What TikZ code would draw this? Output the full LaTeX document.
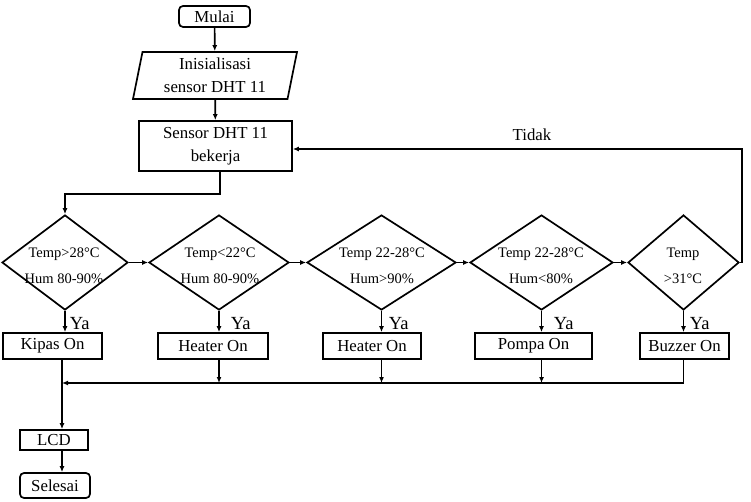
\documentclass[tikz,border=0pt]{standalone}
\usepackage{fontspec}
\setmainfont{Liberation Serif}
\usetikzlibrary{arrows.meta,shapes.geometric,calc}
\begin{document}
\begin{tikzpicture}[x=1pt,y=-1pt,
  line width=1.7pt,
  arr/.style={-{Latex[length=6pt,width=5pt]}},
  txt/.style={font=\fontsize{16.8}{22.5}\selectfont},
  term/.style={draw,rounded corners=4pt,inner sep=0pt,txt},
  box/.style={draw,inner sep=0pt,txt,align=center},
  io/.style={draw,trapezium,trapezium left angle=79,trapezium right angle=101,trapezium stretches=true,inner sep=0pt,txt,align=center},
  dia/.style={draw,diamond,inner sep=0pt},
  dtxt/.style={font=\fontsize{14.5}{26}\selectfont,align=center,inner sep=0pt},
  lbl/.style={txt,inner sep=0pt},
  yalbl/.style={font=\fontsize{18.5}{22}\selectfont,inner sep=0pt,anchor=west}]
\useasboundingbox (0,0) rectangle (751,502);
% top
\node[term,minimum width=71pt,minimum height=21pt] (mulai) at (214.5,16.5) {Mulai};
\node[io,minimum width=164pt,minimum height=47pt] (init) at (215,75.5) {Inisialisasi\\sensor DHT 11};
\node[box,minimum width=153pt,minimum height=50pt] (sensor) at (215.5,146) {Sensor DHT 11\\bekerja};
% decisions
\node[dia,minimum width=126pt,minimum height=95pt] (d1) at (65,262.5) {};
\node[dia,minimum width=140pt,minimum height=95pt] (d2) at (219,262.5) {};
\node[dia,minimum width=149pt,minimum height=95pt] (d3) at (381.5,262.5) {};
\node[dia,minimum width=143pt,minimum height=95pt] (d4) at (541.5,262.5) {};
\node[dia,minimum width=111pt,minimum height=95pt] (d5) at (683.5,262.5) {};
\node[dtxt] (t1) at (64,266) {Temp>28°C\\Hum 80-90\%};
\node[dtxt] (t2) at (220,266) {Temp<22°C\\Hum 80-90\%};
\node[dtxt] (t3) at (382,266) {Temp 22-28°C\\Hum>90\%};
\node[dtxt] (t4) at (541,266) {Temp 22-28°C\\Hum<80\%};
\node[dtxt] (t5) at (683,266) {Temp\\>31°C};
% actions
\node[box,minimum width=99pt,minimum height=26pt] (kipas) at (52.5,346) {Kipas On};
\node[box,minimum width=110pt,minimum height=26pt] (heater1) at (213,346) {Heater On};
\node[box,minimum width=98pt,minimum height=26pt] (heater2) at (372,346) {Heater On};
\node[box,minimum width=117pt,minimum height=26pt] (pompa) at (533.5,346) {Pompa On};
\node[box,minimum width=89pt,minimum height=26pt] (buzzer) at (684.5,346) {Buzzer On};
\node[box,minimum width=68pt,minimum height=20pt] (lcd) at (54,440) {LCD};
\node[term,minimum width=70pt,minimum height=25pt] (selesai) at (55,485.5) {Selesai};
% labels
\node[lbl] (tidak) at (532,135) {Tidak};
\node[yalbl] (ya1) at (69,324) {Ya};
\node[yalbl] (ya2) at (230,324) {Ya};
\node[yalbl] (ya3) at (388,324) {Ya};
\node[yalbl] (ya4) at (553,324) {Ya};
\node[yalbl] (ya5) at (689,324) {Ya};
\coordinate (kb) at (62,359);
\coordinate (bus) at (62,383);
% connectors
\draw[arr] (mulai) -- (init);
\draw[arr] (init) -- (sensor);
\draw[arr] ([xshift=4.5pt]sensor.south) -- ++(0,22) -| (d1.north);
\draw[arr] (d1.east) -- (d2.west);
\draw[arr] (d2.east) -- (d3.west);
\draw[arr] (d3.east) -- (d4.west);
\draw[arr] (d4.east) -- (d5.west);
\draw[arr] (d5.east) -- ++(2,0) |- ([yshift=-3pt]sensor.east);
\draw[arr] (d1.south) -- (d1.south |- kipas.north);
\draw[arr] (d2.south) -- (d2.south |- heater1.north);
\draw[arr] (d3.south) -- (d3.south |- heater2.north);
\draw[arr] (d4.south) -- (d4.south |- pompa.north);
\draw[arr] (d5.south) -- (d5.south |- buzzer.north);
\draw[arr] (d2.south |- heater1.south) -- (d2.south |- bus);
\draw[arr] (d3.south |- heater2.south) -- (d3.south |- bus);
\draw[arr] (d4.south |- pompa.south) -- (d4.south |- bus);
\draw[arr] (d5.south |- buzzer.south) |- (bus);
\draw[arr] (kb) -- (kb |- lcd.north);
\draw[arr] (kb |- lcd.south) -- (kb |- selesai.north);
\end{tikzpicture}
\end{document}
